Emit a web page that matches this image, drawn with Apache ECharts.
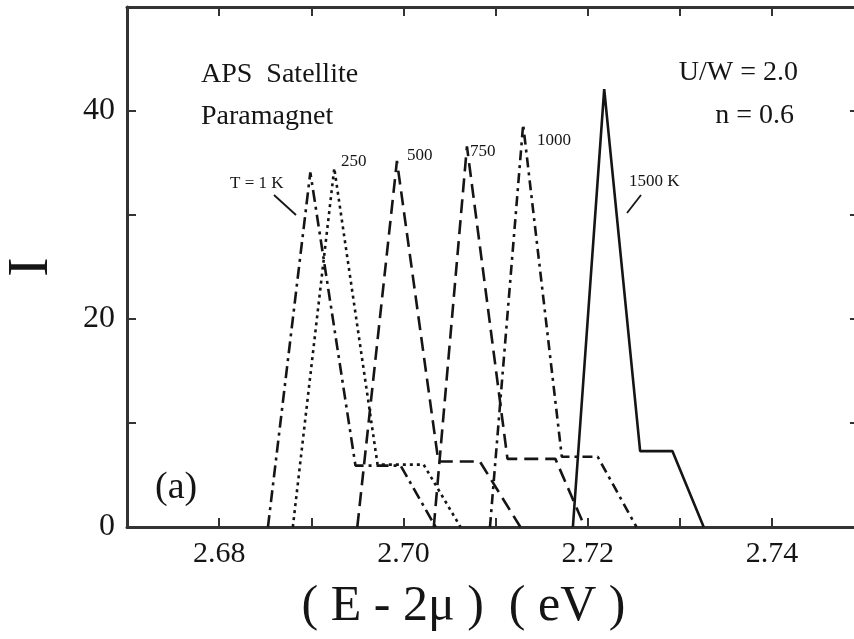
<!DOCTYPE html>
<html><head><meta charset="utf-8">
<script src="https://cdn.jsdelivr.net/npm/echarts@6/dist/echarts.min.js"></script>
<style>html,body{margin:0;padding:0;background:#fff}#c{width:854px;height:639px}</style>
</head><body><div id="c"></div>
<script>
// Data (x = E - 2mu in eV, y = intensity I)
const T1_x    = [2.6853, 2.6899, 2.6948, 2.6997, 2.7035];
const T1_y    = [0, 34.1, 5.9, 5.9, 0];
const T250_x  = [2.6880, 2.6925, 2.6972, 2.7022, 2.7062];
const T250_y  = [0, 34.5, 6.0, 6.0, 0];
const T500_x  = [2.6950, 2.6993, 2.7038, 2.7083, 2.7127];
const T500_y  = [0, 35.2, 6.3, 6.3, 0];
const T750_x  = [2.7033, 2.7069, 2.7113, 2.7165, 2.7197];
const T750_y  = [0, 36.6, 6.55, 6.55, 0];
const T1000_x = [2.7094, 2.7130, 2.7172, 2.7211, 2.7253];
const T1000_y = [0, 38.7, 6.75, 6.75, 0];
const T1500_x = [2.7184, 2.7218, 2.7257, 2.7292, 2.7326];
const T1500_y = [0, 42.1, 7.3, 7.3, 0];
const xTickLabels = ['2.68', '2.70', '2.72', '2.74'];
const yTickLabels = ['0', '20', '40'];

const FONT = '"Liberation Serif", "Times New Roman", serif';
const INK = '#151515';
const pair = (xs, ys) => xs.map((x, i) => [x, ys[i]]);

const chart = echarts.init(document.getElementById('c'), null, {renderer: 'canvas'});

function mkSeries(name, xs, ys, type) {
  return {
    name, type: 'line', data: pair(xs, ys), symbol: 'none', xAxisIndex: 0, yAxisIndex: 0,
    lineStyle: {color: INK, width: 2.6, type: type, cap: 'butt'}, z: 3, animation: false
  };
}

const axisLineStyle = {show: true, onZero: false, lineStyle: {color: '#333', width: 3}};
const tickStyle = {show: true, inside: true, length: 9, lineStyle: {color: '#333', width: 2}};

const option = {
  animation: false,
  backgroundColor: '#fff',
  grid: {left: 127, right: -10, top: 7, bottom: 112, outerBoundsMode: 'none', containLabel: false},
  xAxis: [{
    type: 'value', min: 2.67, max: 2.75, interval: 0.01, position: 'bottom',
    axisLine: axisLineStyle, axisTick: tickStyle, splitLine: {show: false},
    axisLabel: {
      margin: 12, fontFamily: FONT, fontSize: 30, color: INK,
      formatter: v => { const s = v.toFixed(2); return xTickLabels.indexOf(s) >= 0 ? s : ''; }
    },
    name: '( E - 2\u03bc )  ( eV )', nameLocation: 'middle', nameGap: 55,
    nameTextStyle: {fontFamily: FONT, fontSize: 50, color: INK, padding: [0, 64, 0, 0]}
  }, {
    type: 'value', min: 2.67, max: 2.75, interval: 0.01, position: 'top',
    axisLine: axisLineStyle, axisTick: tickStyle, splitLine: {show: false}, axisLabel: {show: false}
  }],
  yAxis: [{
    type: 'value', min: 0, max: 50, interval: 10, position: 'left',
    axisLine: axisLineStyle, axisTick: tickStyle, splitLine: {show: false},
    axisLabel: {
      margin: 12, fontFamily: FONT, fontSize: 32, color: INK,
      formatter: v => { const s = String(Math.round(v)); return yTickLabels.indexOf(s) >= 0 ? s : ''; }
    },
    name: 'I', nameLocation: 'middle', nameGap: 66, nameRotate: 90,
    nameTextStyle: {fontFamily: FONT, fontSize: 58, color: INK}
  }, {
    type: 'value', min: 0, max: 50, interval: 10, position: 'right',
    axisLine: axisLineStyle,
    axisTick: {show: true, inside: true, length: 14, lineStyle: {color: '#333', width: 2}},
    splitLine: {show: false}, axisLabel: {show: false}
  }],
  series: [
    mkSeries('1 K', T1_x, T1_y, [12, 5, 3, 5]),
    mkSeries('250 K', T250_x, T250_y, [3, 4]),
    mkSeries('500 K', T500_x, T500_y, [14, 7]),
    mkSeries('750 K', T750_x, T750_y, [14, 7]),
    mkSeries('1000 K', T1000_x, T1000_y, [10, 5, 3, 5]),
    mkSeries('1500 K', T1500_x, T1500_y, 'solid')
  ],
  graphic: [
    {type: 'text', left: 201, top: 61, style: {text: 'APS  Satellite', font: '28px ' + FONT, fill: INK}},
    {type: 'text', left: 201, top: 103, style: {text: 'Paramagnet', font: '28px ' + FONT, fill: INK}},
    {type: 'text', right: 56, top: 59, style: {text: 'U/W = 2.0', font: '28px ' + FONT, fill: INK}},
    {type: 'text', right: 60, top: 102, style: {text: 'n = 0.6', font: '28px ' + FONT, fill: INK}},
    {type: 'text', left: 155, top: 469, style: {text: '(a)', font: '38px ' + FONT, fill: INK}},
    {type: 'text', left: 230, top: 175, style: {text: 'T = 1 K', font: '17px ' + FONT, fill: INK}},
    {type: 'text', left: 341, top: 153, style: {text: '250', font: '17px ' + FONT, fill: INK}},
    {type: 'text', left: 407, top: 147, style: {text: '500', font: '17px ' + FONT, fill: INK}},
    {type: 'text', left: 470, top: 143, style: {text: '750', font: '17px ' + FONT, fill: INK}},
    {type: 'text', left: 537, top: 132, style: {text: '1000', font: '17px ' + FONT, fill: INK}},
    {type: 'text', left: 629, top: 173, style: {text: '1500 K', font: '17px ' + FONT, fill: INK}},
    {type: 'line', shape: {x1: 274, y1: 195, x2: 296, y2: 215}, style: {stroke: INK, lineWidth: 1.8}},
    {type: 'line', shape: {x1: 641, y1: 195, x2: 627, y2: 213}, style: {stroke: INK, lineWidth: 1.8}}
  ]
};
chart.setOption(option);
</script>
</body></html>
